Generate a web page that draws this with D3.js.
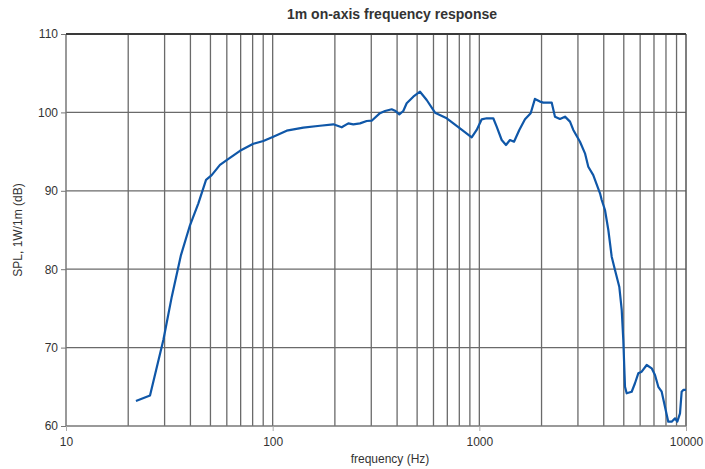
<!doctype html>
<html lang="en">
<head>
  <meta charset="UTF-8">
  <title>1m on-axis frequency response</title>
  <script src="https://d3js.org/d3.v7.min.js"></script>
  <style>
    body { margin: 0; background: #fff; }
    text { font-family: "Liberation Sans", Arial, sans-serif; fill: #333; }
  </style>
</head>
<body>
  <div id="chart"></div>
  <script type="text/javascript">
    // frequency response
    var freqs = [21.8, 25.5, 29.6, 32.5, 36.0, 39.8, 43.7, 47.6, 50.7, 55.6, 59.9, 69.5, 80.6, 90.1,
      100.7, 116.9, 140.7, 169.4, 196.6, 215.8, 232.3, 245.6, 264.6, 285.1, 301.4, 330.5,
      349.6, 376.7, 390.8, 410.1, 428.6, 445.1, 479.1, 516.4, 556.3, 610.4, 695.3, 806.1,
      918.4, 971, 1027, 1085, 1168, 1213, 1283, 1346, 1407, 1472, 1561, 1663, 1772, 1858,
      1966, 2040, 2239, 2323, 2455, 2597, 2746, 2849, 3069, 3245, 3367, 3558, 3836, 3910,
      4055, 4209, 4370, 4533, 4755, 4886, 4973, 5068, 5164, 5460, 5664, 5877, 6103, 6455,
      6823, 7079, 7345, 7627, 7911, 8206, 8527, 8850, 9077, 9354, 9527, 9703, 10000];
    var spl = [63.2, 63.9, 71.0, 76.5, 81.8, 85.6, 88.4, 91.4, 92.0, 93.3, 93.9, 95.1, 96.0, 96.35,
      96.9, 97.67, 98.05, 98.3, 98.48, 98.1, 98.6, 98.48, 98.6, 98.9, 98.94, 99.9,
      100.18, 100.4, 100.22, 99.76, 100.18, 101.16, 102.0, 102.64, 101.58, 99.96, 99.25, 97.97,
      96.82, 97.76, 99.12, 99.25, 99.25, 98.18, 96.48, 95.84, 96.48, 96.26, 97.76, 99.12, 99.89, 101.72,
      101.38, 101.25, 101.25, 99.46, 99.16, 99.46, 98.82, 97.76, 96.26, 94.78, 93.07, 92.0, 89.68, 88.83,
      87.55, 85.0, 81.6, 79.9, 77.77, 74.8, 70.97, 65.0, 64.17, 64.37, 65.45, 66.72, 66.93, 67.78,
      67.36, 66.5, 65.0, 64.37, 62.46, 60.55, 60.55, 60.98, 60.55, 61.62, 64.37, 64.6, 64.6];
    var xTickValues = [10, 100, 1000, 10000];
    var yTickValues = [60, 70, 80, 90, 100, 110];

    var data = freqs.map(function(f, i){ return {f: f, db: spl[i]}; });

    var width = 705, height = 469;
    var margin = {top: 34, right: 19, bottom: 43, left: 66};

    var xScale = d3.scaleLog().domain([10, 10000]).range([margin.left, width - margin.right]);
    var yScale = d3.scaleLinear().domain([60, 110]).range([height - margin.bottom, margin.top]);

    var svg = d3.select("#chart").append("svg")
      .attr("width", width)
      .attr("height", height);

    // vertical grid at every 1..9 step of each decade
    var gridX = [];
    [10, 100, 1000].forEach(function(dec){
      for (var k = 2; k <= 9; k++) gridX.push(dec * k);
    });
    gridX.push(100, 1000);
    svg.append("g").selectAll("line").data(gridX).enter().append("line")
      .attr("x1", function(d){ return xScale(d); })
      .attr("x2", function(d){ return xScale(d); })
      .attr("y1", yScale(110))
      .attr("y2", yScale(60))
      .attr("stroke", "#6a6a6a")
      .attr("stroke-width", 1.3);

    // horizontal grid
    svg.append("g").selectAll("line").data([70, 80, 90, 100]).enter().append("line")
      .attr("x1", xScale(10))
      .attr("x2", xScale(10000))
      .attr("y1", function(d){ return yScale(d); })
      .attr("y2", function(d){ return yScale(d); })
      .attr("stroke", "#6a6a6a")
      .attr("stroke-width", 1.3);

    // frame
    svg.append("line").attr("x1", xScale(10)).attr("x2", xScale(10)).attr("y1", yScale(110)).attr("y2", yScale(60))
      .attr("stroke", "#777").attr("stroke-width", 1.5);
    svg.append("line").attr("x1", xScale(10000)).attr("x2", xScale(10000)).attr("y1", yScale(110)).attr("y2", yScale(60))
      .attr("stroke", "#555").attr("stroke-width", 1.5);
    svg.append("line").attr("x1", xScale(10)).attr("x2", xScale(10000)).attr("y1", yScale(110)).attr("y2", yScale(110))
      .attr("stroke", "#3a3a3a").attr("stroke-width", 2);
    svg.append("line").attr("x1", xScale(10)).attr("x2", xScale(10000)).attr("y1", yScale(60)).attr("y2", yScale(60))
      .attr("stroke", "#777").attr("stroke-width", 1.5);

    // axes
    var yAxis = d3.axisLeft(yScale).tickValues(yTickValues).tickSize(5).tickPadding(3);
    var gy = svg.append("g").attr("transform", "translate(" + margin.left + ",0)").call(yAxis);
    gy.select(".domain").remove();
    gy.selectAll("line").attr("stroke", "#777");
    gy.selectAll("text").style("font-size", "12px").attr("fill", "#333");

    var xAxis = d3.axisBottom(xScale).tickValues(xTickValues).tickFormat(d3.format("d")).tickSize(5).tickPadding(6);
    var gx = svg.append("g").attr("transform", "translate(0," + (height - margin.bottom) + ")").call(xAxis);
    gx.select(".domain").remove();
    gx.selectAll("line").attr("stroke", "#aaa");
    gx.selectAll("text").style("font-size", "12px").attr("fill", "#333");

    // response curve
    var line = d3.line()
      .x(function(d){ return xScale(d.f); })
      .y(function(d){ return yScale(d.db); });
    svg.append("path").datum(data)
      .attr("d", line)
      .attr("fill", "none")
      .attr("stroke", "#0f57a8")
      .attr("stroke-width", 2.2)
      .attr("stroke-linejoin", "round");

    // titles
    svg.append("text")
      .attr("x", 392).attr("y", 19)
      .attr("text-anchor", "middle")
      .style("font-size", "14px").style("font-weight", "bold")
      .text("1m on-axis frequency response");
    svg.append("text")
      .attr("x", 390).attr("y", 463)
      .attr("text-anchor", "middle")
      .style("font-size", "12px")
      .text("frequency (Hz)");
    svg.append("text")
      .attr("transform", "translate(22,230) rotate(-90)")
      .attr("text-anchor", "middle")
      .style("font-size", "12px")
      .text("SPL, 1W/1m (dB)");
  </script>
</body>
</html>
